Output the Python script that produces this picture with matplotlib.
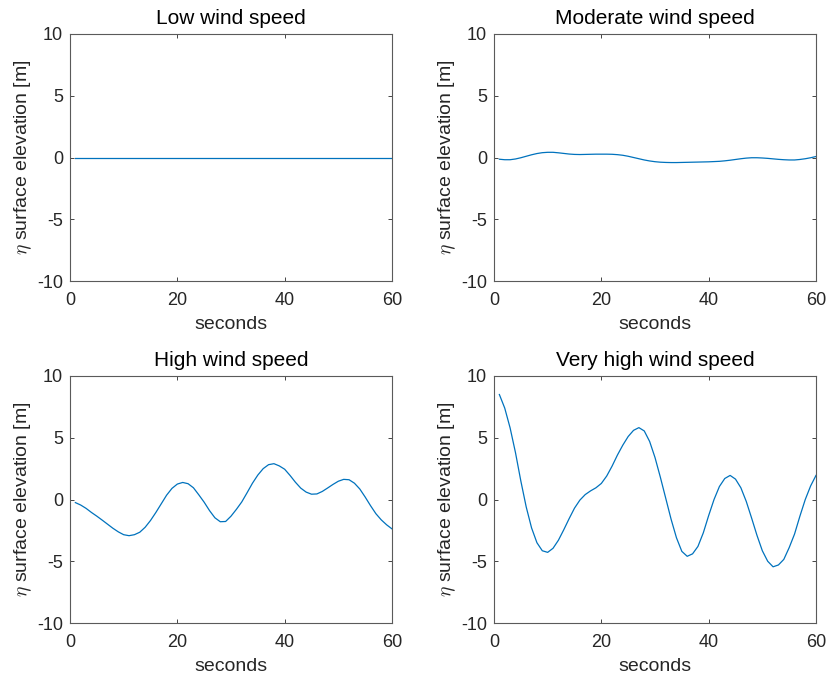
"""Sea surface elevation for four wind regimes - 2x2 panel figure."""
import matplotlib
matplotlib.use("Agg")
import matplotlib.pyplot as plt

plt.rcParams["font.family"] = ["Liberation Sans", "DejaVu Sans"]
plt.rcParams["mathtext.fontset"] = "cm"
plt.rcParams["axes.unicode_minus"] = False

# --- data (1 s sampling) ---------------------------------------------------

t_s = list(range(1, 61))

eta_low = [0.0] * 60

eta_moderate = [
    -0.14, -0.18, -0.18, -0.12, -0.02, 0.10, 0.22, 0.32, 0.39, 0.42,
    0.42, 0.38, 0.33, 0.28, 0.25, 0.24, 0.25, 0.26, 0.27, 0.27,
    0.27, 0.26, 0.23, 0.18, 0.10, 0.00, -0.10, -0.20, -0.28, -0.34,
    -0.38, -0.40, -0.41, -0.41, -0.40, -0.39, -0.38, -0.37, -0.36, -0.35,
    -0.33, -0.31, -0.27, -0.22, -0.16, -0.10, -0.05, -0.02, -0.02, -0.04,
    -0.07, -0.11, -0.15, -0.18, -0.20, -0.20, -0.16, -0.10, -0.02, 0.08,
]

eta_high = [
    -0.25, -0.45, -0.72, -1.05, -1.35, -1.67, -2.00, -2.33, -2.62, -2.85,
    -2.93, -2.85, -2.65, -2.25, -1.70, -1.05, -0.35, 0.35, 0.90, 1.25,
    1.38, 1.28, 0.95, 0.38, -0.22, -0.90, -1.48, -1.80, -1.78, -1.35,
    -0.80, -0.20, 0.55, 1.32, 1.98, 2.50, 2.82, 2.90, 2.72, 2.45,
    1.95, 1.40, 0.92, 0.60, 0.43, 0.45, 0.65, 0.93, 1.22, 1.48,
    1.63, 1.60, 1.32, 0.85, 0.20, -0.50, -1.15, -1.65, -2.05, -2.38,
]

eta_very_high = [
    8.50, 7.40, 5.80, 3.80, 1.50, -0.60, -2.30, -3.50, -4.15, -4.28,
    -3.95, -3.30, -2.45, -1.55, -0.70, -0.05, 0.40, 0.70, 0.95, 1.30,
    1.90, 2.70, 3.60, 4.40, 5.10, 5.60, 5.82, 5.55, 4.70, 3.40,
    1.80, 0.10, -1.60, -3.10, -4.20, -4.60, -4.40, -3.80, -2.70, -1.30,
    0.00, 1.05, 1.70, 1.95, 1.65, 0.95, -0.15, -1.50, -2.90, -4.15,
    -5.00, -5.45, -5.30, -4.85, -3.90, -2.80, -1.35, 0.00, 1.10, 1.95,
]

titles = ["Low wind speed", "Moderate wind speed",
          "High wind speed", "Very high wind speed"]
series = [eta_low, eta_moderate, eta_high, eta_very_high]

x_ticks = [0, 20, 40, 60]
y_ticks = [-10, -5, 0, 5, 10]

# --- figure ------------------------------------------------------------------

fig = plt.figure(figsize=(8.29, 6.77), dpi=100)
fw, fh = 829.0, 677.0
lefts = [70, 494, 70, 494]
tops = [34, 34, 376, 376]
w_px, h_px = 322, 247

for k in range(4):
    ax = fig.add_axes([lefts[k] / fw, 1 - (tops[k] + h_px) / fh,
                       w_px / fw, h_px / fh])
    ax.plot(t_s, series[k], color="#0072BD", lw=0.9)
    ax.set_xlim(0, 60)
    ax.set_ylim(-10, 10)
    ax.set_xticks(x_ticks)
    ax.set_yticks(y_ticks)
    ax.tick_params(direction="in", top=True, right=True, length=3,
                   width=0.6, labelsize=13, colors="#262626")
    ax.tick_params(axis="x", pad=8)
    ax.tick_params(axis="y", pad=5)
    for sp in ax.spines.values():
        sp.set_color("#5a5a5a")
        sp.set_linewidth(0.8)
    ax.set_title(titles[k], fontsize=15, color="black", pad=7)
    ax.set_xlabel("seconds", fontsize=14, color="#262626", labelpad=5)
    ax.set_ylabel(r"$\eta$ surface elevation [m]", fontsize=14,
                  color="#262626", labelpad=2)

fig.savefig("out.png", dpi=100)
